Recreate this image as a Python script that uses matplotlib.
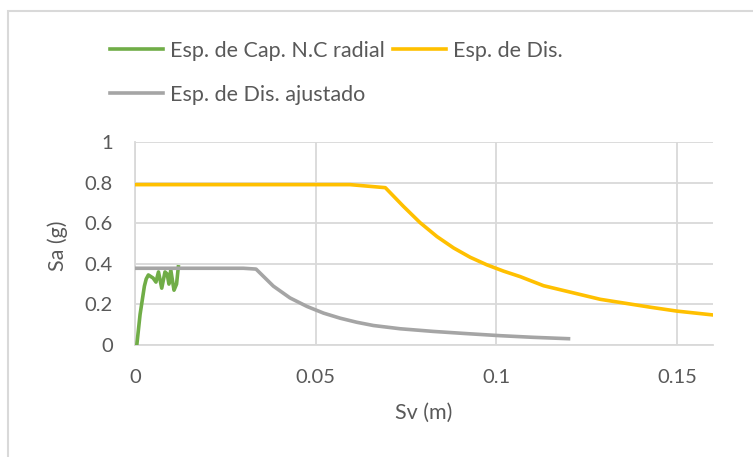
import matplotlib
matplotlib.use("Agg")
import matplotlib.pyplot as plt
from matplotlib.patches import Rectangle

# Data
cap_x = [0.0005, 0.0014, 0.0026, 0.0031, 0.0037, 0.0050, 0.0058, 0.0065, 0.0074, 0.0083, 0.0089, 0.0094, 0.0099, 0.0108, 0.0115, 0.0120]
cap_y = [0.00, 0.15, 0.29, 0.325, 0.345, 0.33, 0.31, 0.36, 0.28, 0.36, 0.35, 0.30, 0.37, 0.27, 0.30, 0.385]

dis_x = [0.0, 0.0595, 0.0693, 0.0743, 0.0789, 0.0836, 0.0882, 0.0928, 0.0974, 0.102, 0.1066, 0.1131, 0.1288, 0.1427, 0.150, 0.160, 0.170]
dis_y = [0.79, 0.79, 0.775, 0.683, 0.603, 0.534, 0.478, 0.432, 0.395, 0.364, 0.337, 0.292, 0.225, 0.186, 0.167, 0.148, 0.133]

adj_x = [0.0, 0.030, 0.0335, 0.0383, 0.0429, 0.0476, 0.0522, 0.0568, 0.0614, 0.066, 0.0734, 0.0825, 0.0919, 0.101, 0.110, 0.120]
adj_y = [0.378, 0.378, 0.374, 0.290, 0.232, 0.190, 0.157, 0.132, 0.112, 0.096, 0.080, 0.067, 0.056, 0.046, 0.038, 0.031]

labels = ["Esp. de Cap. N.C radial", "Esp. de Dis.", "Esp. de Dis. ajustado"]
colors = ["#70AD47", "#FFC000", "#A5A5A5"]
x_ticks = [0, 0.05, 0.1, 0.15]
x_tick_labels = ["0", "0.05", "0.1", "0.15"]
y_ticks = [0, 0.2, 0.4, 0.6, 0.8, 1]
y_tick_labels = ["0", "0.2", "0.4", "0.6", "0.8", "1"]

plt.rcParams['font.family'] = ['Lato', 'DejaVu Sans']
txt = "#595959"
grid = "#D9D9D9"

fig = plt.figure(figsize=(7.53, 4.57), dpi=100)
W, H = 753, 457
ax = fig.add_axes([135 / W, 1 - 345 / H, (713 - 135) / W, (345 - 142) / H])

lw = 2.6
h1, = ax.plot(cap_x, cap_y, color=colors[0], lw=lw, solid_joinstyle='round', label=labels[0], zorder=3)
h2, = ax.plot(dis_x, dis_y, color=colors[1], lw=lw, solid_joinstyle='round', label=labels[1], zorder=3)
h3, = ax.plot(adj_x, adj_y, color=colors[2], lw=lw, solid_joinstyle='round', label=labels[2], zorder=3)

ax.set_xlim(0, 0.16)
ax.set_ylim(0, 1)
ax.set_xticks(x_ticks)
ax.set_xticklabels(x_tick_labels)
ax.set_yticks(y_ticks)
ax.set_yticklabels(y_tick_labels)
ax.grid(True, color=grid, lw=1.3, zorder=0)
ax.set_axisbelow(True)
for s in ["top", "right"]:
    ax.spines[s].set_visible(False)
for s in ["left", "bottom"]:
    ax.spines[s].set_color(grid)
    ax.spines[s].set_linewidth(1.3)
ax.tick_params(length=0, labelsize=14.5, labelcolor=txt)
ax.tick_params(axis='y', pad=16)
ax.tick_params(axis='x', pad=17)

ax.set_xlabel("Sv (m)", fontsize=15.5, color=txt)
ax.set_ylabel("Sa (g)", fontsize=15.5, color=txt)
ax.xaxis.label.set(ha='center', va='center')
ax.yaxis.label.set(ha='center', va='center', rotation_mode='default')
ax.xaxis.set_label_coords(0.5, (345 - 413) / 203)
ax.yaxis.set_label_coords((57.5 - 135) / 578, (345 - 246) / 203)

leg = fig.legend([h1, h3, h2], [labels[0], labels[2], labels[1]], ncol=2,
                 loc='upper left', bbox_to_anchor=(110 / W, 1 - 41 / H),
                 frameon=False, fontsize=15.5, labelcolor=txt,
                 handlelength=2.45, handletextpad=0.33, columnspacing=0.4,
                 labelspacing=1.1, borderpad=0, borderaxespad=0)

fig.add_artist(Rectangle((8 / W, -0.1), 1.2, 1.1 - 11 / H, transform=fig.transFigure,
                         fill=False, edgecolor=grid, lw=1.5))

fig.savefig("out.png", dpi=100)
